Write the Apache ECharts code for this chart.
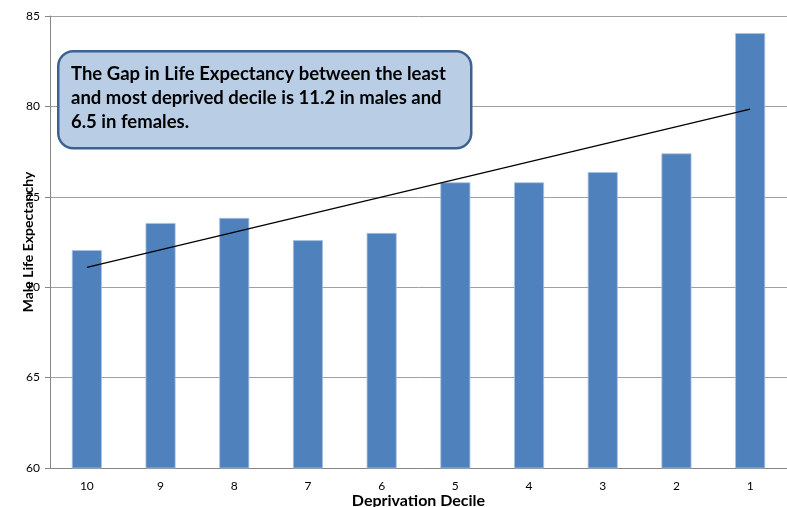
<!DOCTYPE html>
<html><head><meta charset="utf-8">
<script src="https://cdn.jsdelivr.net/npm/echarts@6/dist/echarts.min.js"></script>
<style>html,body{margin:0;padding:0;background:#fff}#c{width:787px;height:507px}</style>
</head><body><div id="c"></div>
<script>
const categories = ['10','9','8','7','6','5','4','3','2','1'];
const maleLifeExpectancy = [72.05, 73.55, 73.83, 72.6, 73.0, 75.8, 75.8, 76.37, 77.4, 84.05];
const trendEnds = [71.1, 79.85];
const yTicks = [60, 65, 70, 75, 80, 85];
const noteLines = [
  'The Gap in Life Expectancy between the least',
  'and most deprived decile is 11.2 in males and',
  '6.5 in females.'
];

const chart = echarts.init(document.getElementById('c'), null, {renderer:'canvas'});
chart.setOption({
  animation:false,
  grid:{left:50, right:0, top:16, bottom:39, containLabel:false, outerBoundsMode:'none'},
  xAxis:{
    type:'category', data:categories,
    name:'Deprivation Decile', nameLocation:'middle', nameGap:25, nameMoveOverlap:false,
    nameTextStyle:{fontFamily:'Lato', fontWeight:'bold', fontSize:16, color:'#000'},
    axisLine:{lineStyle:{color:'#868686', width:1}},
    axisTick:{show:false},
    axisLabel:{fontFamily:'Lato', fontSize:12, color:'#000', margin:12}
  },
  yAxis:{
    type:'value', min:yTicks[0], max:yTicks[yTicks.length-1], interval:5,
    name:'Male Life Expectanchy', nameLocation:'middle', nameGap:15, nameMoveOverlap:false,
    nameTextStyle:{fontFamily:'Lato', fontWeight:'bold', fontSize:14, color:'#000'},
    axisLine:{show:true, lineStyle:{color:'#868686', width:1}},
    axisTick:{show:true, length:5, lineStyle:{color:'#868686'}},
    axisLabel:{fontFamily:'Lato', fontSize:12, color:'#000', margin:10},
    splitLine:{lineStyle:{color:'#a0a0a0', width:1}}
  },
  series:[{
    type:'bar', data:maleLifeExpectancy, barWidth:30,
    itemStyle:{color:'#4f81bd', borderColor:'#a9c0e0', borderWidth:0.8},
    markLine:{
      silent:true, symbol:['none','none'], label:{show:false},
      lineStyle:{color:'#000', width:1.2, type:'solid'},
      data:[[{coord:[categories[0], trendEnds[0]]},{coord:[categories[categories.length-1], trendEnds[1]]}]]
    }
  }],
  graphic:[
    {type:'rect', left:57, top:50, shape:{width:413, height:97, r:15},
     style:{fill:'#b9cde5', stroke:'#3d6290', lineWidth:2.5}, z:100},
    {type:'text', left:71, top:62, z:101,
     style:{text:noteLines.join('\n'), font:'bold 18.5px Lato', fill:'#000', lineHeight:24}}
  ]
});
</script></body></html>
